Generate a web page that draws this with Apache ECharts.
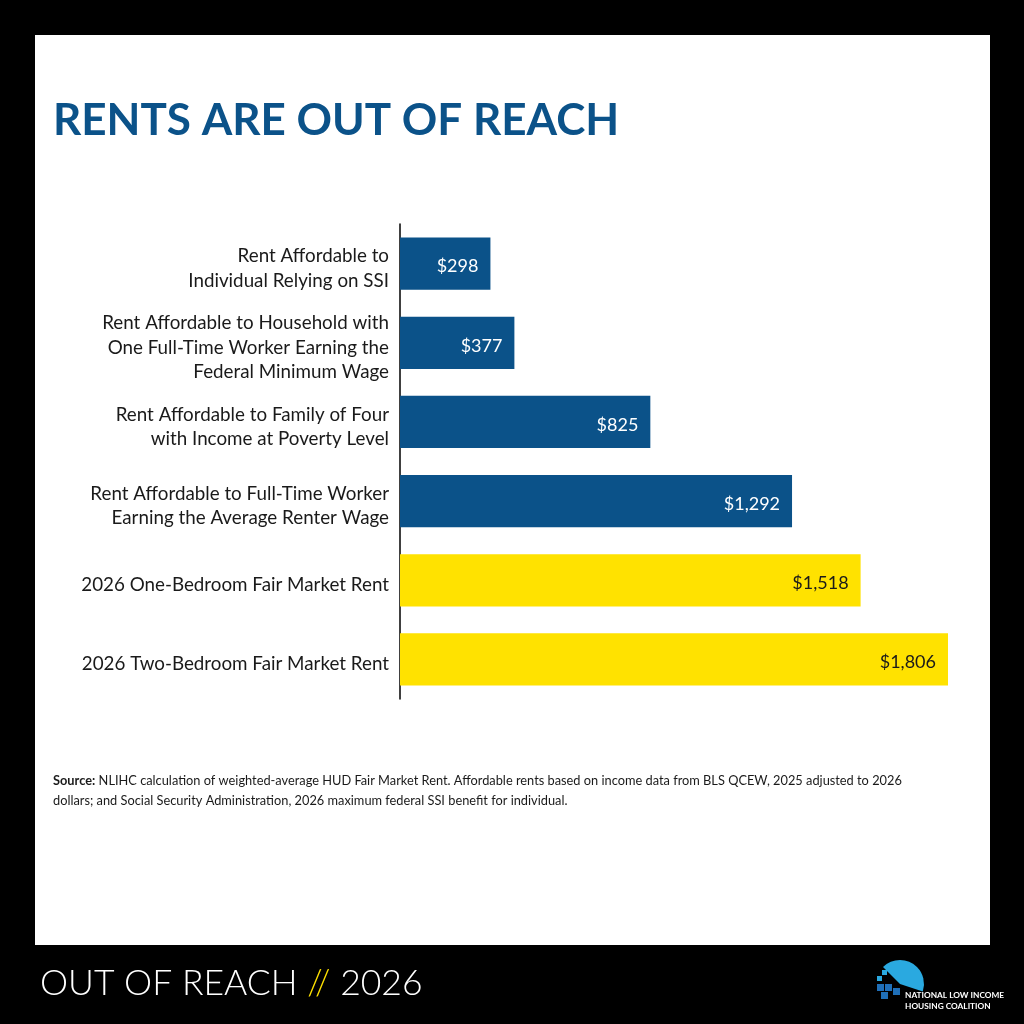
<!DOCTYPE html>
<html>
<head>
<meta charset="utf-8">
<script src="https://cdn.jsdelivr.net/npm/echarts@6/dist/echarts.min.js"></script>
<style>
  html,body{margin:0;padding:0;background:#000;}
  #chart{width:1024px;height:1024px;}
</style>
</head>
<body>
<div id="chart"></div>
<script>
// categories, top to bottom
var categories = [
    'Rent Affordable to\nIndividual Relying on SSI',
    'Rent Affordable to Household with\nOne Full-Time Worker Earning the\nFederal Minimum Wage',
    'Rent Affordable to Family of Four\nwith Income at Poverty Level',
    'Rent Affordable to Full-Time Worker\nEarning the Average Renter Wage',
    '2026 One-Bedroom Fair Market Rent',
    '2026 Two-Bedroom Fair Market Rent'
];
var rents = [298, 377, 825, 1292, 1518, 1806];
var groups = ['affordable', 'affordable', 'affordable', 'affordable', 'fmr', 'fmr'];

var BLUE = '#0b5289';
var YELLOW = '#ffe200';

function money(v){
    return '$' + v.toLocaleString('en-US');
}

var myChart = echarts.init(document.getElementById('chart'));

var option = {
    backgroundColor: '#000',
    animation: false,
    textStyle: { fontFamily: 'Lato' },
    graphic: [
        // white panel
        { type: 'rect', z: -10, shape: { x: 35, y: 35, width: 955, height: 910 }, style: { fill: '#fff' } },
        { type: 'text', left: 53, top: 99,
          style: { text: 'RENTS ARE OUT OF REACH', fill: BLUE, font: 'bold 44px Lato' } },
        // source note
        { type: 'text', left: 53, top: 771,
          style: {
              text: '{b|Source:} NLIHC calculation of weighted-average HUD Fair Market Rent. Affordable rents based on income data from BLS QCEW, 2025 adjusted to 2026\ndollars; and Social Security Administration, 2026 maximum federal SSI benefit for individual.',
              fill: '#1a1a1a', font: '12.8px Lato', lineHeight: 20,
              rich: { b: { fontWeight: 'bold', fontSize: 12.8, fontFamily: 'Lato', fill: '#1a1a1a' } }
          } },
        // footer
        { type: 'text', left: 40, top: 966,
          style: {
              text: 'OUT OF REACH {y|//} 2026',
              fill: '#fff', font: '300 35.5px Lato',
              rich: { y: { fill: YELLOW, fontSize: 35.5, fontWeight: 300, fontFamily: 'Lato' } }
          } },
        // logo (rough)
        { type: 'sector', shape: { cx: 900, cy: 984, r: 24, r0: 0, startAngle: -Math.PI * 0.75, endAngle: Math.PI * 0.1 },
          style: { fill: '#2aa9e0' } },
        { type: 'rect', shape: { x: 877, y: 984, width: 7, height: 7 }, style: { fill: '#1f6fb8' } },
        { type: 'rect', shape: { x: 885, y: 984, width: 7, height: 7 }, style: { fill: '#1f6fb8' } },
        { type: 'rect', shape: { x: 881, y: 992, width: 7, height: 7 }, style: { fill: '#1f6fb8' } },
        { type: 'rect', shape: { x: 893, y: 988, width: 7, height: 7 }, style: { fill: '#1f6fb8' } },
        { type: 'rect', shape: { x: 877, y: 976, width: 5, height: 5 }, style: { fill: '#2aa9e0' } },
        { type: 'rect', shape: { x: 882, y: 970, width: 5, height: 5 }, style: { fill: '#2aa9e0' } },
        { type: 'text', left: 905, top: 990,
          style: { text: 'NATIONAL LOW INCOME\nHOUSING COALITION', fill: '#fff', font: 'bold 8.3px Lato', lineHeight: 11 } }
    ],
    grid: { left: 400, width: 548, top: 224, height: 475, containLabel: false },
    xAxis: {
        type: 'value', min: 0, max: 1806, show: false
    },
    yAxis: {
        type: 'category',
        inverse: true,
        data: categories,
        axisLine: { show: true, lineStyle: { color: '#000', width: 1.5 } },
        axisTick: { show: false },
        axisLabel: {
            color: '#1a1a1a', fontSize: 18.8, lineHeight: 24.5, margin: 11,
            fontFamily: 'Lato', align: 'right',
            // small blank line on top nudges the text block down a bit
            formatter: function(v){ return '{s| }\n' + v; },
            rich: { s: { fontSize: 1, lineHeight: 10 } }
        }
    },
    series: [{
        type: 'bar',
        barCategoryGap: '34%',
        itemStyle: {
            color: function(p){ return groups[p.dataIndex] == 'fmr' ? YELLOW : BLUE; }
        },
        label: {
            show: true,
            position: 'insideRight',
            distance: 12,
            offset: [0, 3],
            fontSize: 18,
            fontFamily: 'Lato',
            color: '#fff',
            formatter: function(p){ return money(p.value); }
        },
        // label colour per group: white on blue, dark on yellow
        data: rents.map(function(v, i){
            return { value: v, label: { color: groups[i] == 'fmr' ? '#1a1a1a' : '#fff' } };
        })
    }]
};

myChart.setOption(option);
</script>
</body>
</html>
